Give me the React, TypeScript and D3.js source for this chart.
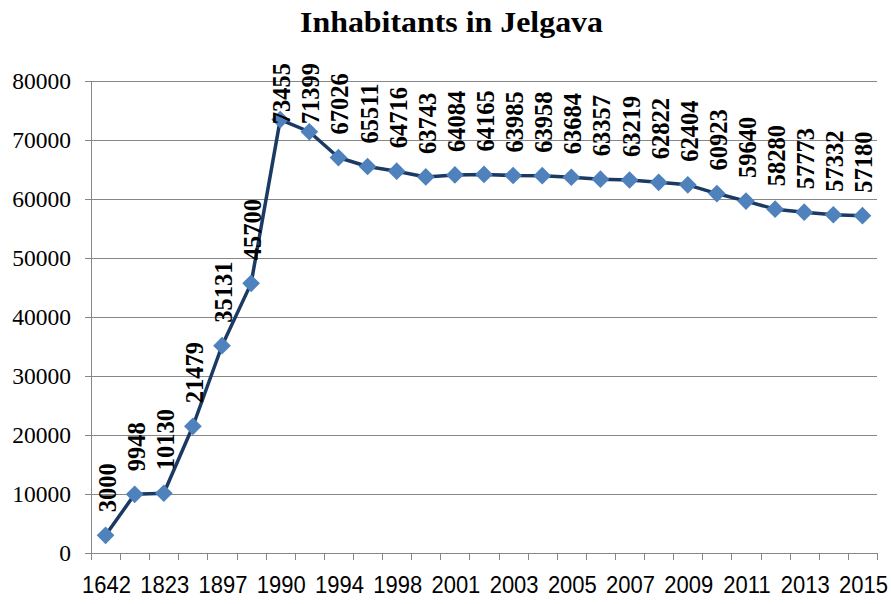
import React from "react";
import * as d3 from "d3";

const years = [
  "1642", "1797", "1823", "1863", "1897", "1935", "1990", "1992", "1994", "1996",
  "1998", "2000", "2001", "2002", "2003", "2004", "2005", "2006", "2007", "2008",
  "2009", "2010", "2011", "2012", "2013", "2014", "2015",
];
const inhabitants = [
  3000, 9948, 10130, 21479, 35131, 45700, 73455, 71399, 67026, 65511,
  64716, 63743, 64084, 64165, 63985, 63958, 63684, 63357, 63219, 62822,
  62404, 60923, 59640, 58280, 57773, 57332, 57180,
];
const yTicks = [0, 10000, 20000, 30000, 40000, 50000, 60000, 70000, 80000];
const title = "Inhabitants in Jelgava";

const W = 891;
const H = 604;
const margin = { left: 91, right: 14, top: 81, bottom: 51 };
const labelFont = 24.5;
const labelTopLimit = 63;

export default function App() {
  const x = d3
    .scaleBand<string>()
    .domain(years)
    .range([margin.left, W - margin.right])
    .paddingInner(0)
    .paddingOuter(0);
  const y = d3.scaleLinear().domain([0, 80000]).range([H - margin.bottom, margin.top]);
  const cx = (i: number) => (x(years[i]) as number) + x.bandwidth() / 2;
  const line = d3
    .line<number>()
    .x((_, i) => cx(i))
    .y((d) => y(d));
  const diamond = d3.symbol().type(d3.symbolDiamond2).size(2 * 10 * 10)();
  const y0 = y(0);
  const tickEdges = years.map((yr) => x(yr) as number).concat([W - margin.right]);

  const labelBottom = (v: number) => {
    const len = String(v).length * 0.5 * labelFont;
    let b = y(v) - 23;
    if (b - len < labelTopLimit) b = labelTopLimit + len;
    return b;
  };

  return (
    <svg
      width={W}
      height={H}
      style={{ position: "absolute", left: 0, top: 0, background: "#fff" }}
    >
      <rect x={0} y={0} width={W} height={H} fill="#fff" />
      <text
        x={451.5}
        y={32}
        textAnchor="middle"
        fontFamily="'Liberation Serif', 'Times New Roman', serif"
        fontWeight="bold"
        fontSize={29}
        textLength={303}
        lengthAdjust="spacingAndGlyphs"
        fill="#000"
      >
        {title}
      </text>
      {yTicks.map((t) => (
        <g key={t}>
          {t > 0 && (
            <line
              x1={margin.left}
              x2={W - margin.right}
              y1={Math.round(y(t)) + 0.5}
              y2={Math.round(y(t)) + 0.5}
              stroke="#878787"
              strokeWidth={1}
            />
          )}
          <line
            x1={margin.left - 6}
            x2={margin.left}
            y1={Math.round(y(t)) + 0.5}
            y2={Math.round(y(t)) + 0.5}
            stroke="#878787"
          />
          <text
            x={71}
            y={y(t)}
            dy="0.35em"
            textAnchor="end"
            fontFamily="'Liberation Serif', 'Times New Roman', serif"
            fontSize={23.5}
            fill="#000"
          >
            {t}
          </text>
        </g>
      ))}
      <line
        x1={margin.left + 0.5}
        x2={margin.left + 0.5}
        y1={margin.top}
        y2={y0}
        stroke="#878787"
      />
      <line
        x1={margin.left}
        x2={W - margin.right}
        y1={Math.round(y0) + 0.5}
        y2={Math.round(y0) + 0.5}
        stroke="#878787"
      />
      {tickEdges.map((e, i) => (
        <line
          key={i}
          x1={Math.round(e) + 0.5}
          x2={Math.round(e) + 0.5}
          y1={y0}
          y2={y0 + 7}
          stroke="#878787"
        />
      ))}
      {years.map((yr, i) =>
        i % 2 === 0 ? (
          <text
            key={yr}
            transform={`translate(${cx(i) + 1},593) scale(1,1.08)`}
            textAnchor="middle"
            fontFamily="'Liberation Sans', Arial, sans-serif"
            fontSize={22}
            fill="#000"
          >
            {yr}
          </text>
        ) : null
      )}
      <path
        d={line(inhabitants) as string}
        fill="none"
        stroke="#1B3A63"
        strokeWidth={3.5}
        strokeLinejoin="round"
      />
      {inhabitants.map((v, i) => (
        <path
          key={i}
          d={diamond as string}
          transform={`translate(${cx(i)},${y(v)})`}
          fill="#4F81BD"
        />
      ))}
      {inhabitants.map((v, i) => (
        <text
          key={"l" + i}
          transform={`translate(${cx(i) + 10},${labelBottom(v)}) rotate(-90)`}
          textAnchor="start"
          fontFamily="'Liberation Serif', 'Times New Roman', serif"
          fontWeight="bold"
          fontSize={labelFont}
          fill="#000"
        >
          {v}
        </text>
      ))}
    </svg>
  );
}
